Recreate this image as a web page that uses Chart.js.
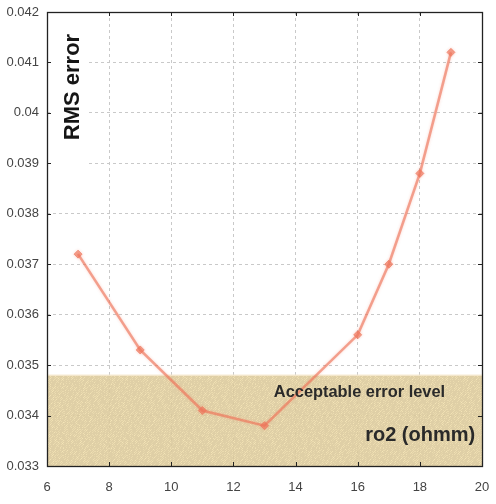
<!DOCTYPE html>
<html>
<head>
<meta charset="utf-8">
<script src="https://cdn.jsdelivr.net/npm/chart.js@4/dist/chart.umd.min.js"></script>
<style>
  html, body { margin: 0; padding: 0; background: #fff; }
  canvas { display: block; }
</style>
</head>
<body>
<canvas id="graphique" width="496" height="504"></canvas>
<script>
// ro2 values (ohmm) and the RMS error
const ro2 = [7, 9, 11, 13, 16, 17, 18, 19];
const rmsError = [0.0372, 0.0353, 0.0341, 0.0338, 0.0356, 0.0370, 0.0388, 0.0412];

// acceptable error band
const bandX = [6, 20];
const bandLevel = 0.0348;

const xTickLabels = ['6', '8', '10', '12', '14', '16', '18', '20'];
const yTickLabels = ['0.033', '0.034', '0.035', '0.036', '0.037', '0.038', '0.039', '0.04', '0.041', '0.042'];

const yTitle = 'RMS error';
const bandTitle = 'Acceptable error level';
const xTitle = 'ro2 (ohmm)';

const lineColor = 'rgba(238, 118, 90, 0.64)';

// grainy tan fill, like the scanned original (deterministic hash, no randomness)
function sandPattern() {
  const c = document.createElement('canvas');
  c.width = 64; c.height = 64;
  const g = c.getContext('2d');
  const img = g.createImageData(64, 64);
  for (let i = 0; i < 64 * 64; i++) {
    let h = (i * 2654435761) >>> 0;
    h = ((h ^ (h >>> 13)) * 1274126177) >>> 0;
    const n = ((h & 255) / 255 - 0.5) * 26;
    img.data[i * 4] = 232 + n;
    img.data[i * 4 + 1] = 214 + n;
    img.data[i * 4 + 2] = 164 + n * 0.8;
    img.data[i * 4 + 3] = 225;
  }
  g.putImageData(img, 0, 0);
  return g.createPattern(c, 'repeat');
}

// soft edge on the curve, the original looks slightly blurred
const softLine = {
  id: 'softLine',
  beforeDatasetDraw(chart, args) {
    if (args.index !== 0) return;
    chart.ctx.save();
    chart.ctx.shadowColor = 'rgba(240, 120, 95, 0.45)';
    chart.ctx.shadowBlur = 3;
  },
  afterDatasetDraw(chart, args) {
    if (args.index !== 0) return;
    chart.ctx.restore();
  }
};

// frame, inner ticks and the texts written inside the plot
const decorations = {
  id: 'decorations',
  afterDatasetsDraw(chart) {
    const ctx = chart.ctx;
    const a = chart.chartArea;
    const xs = chart.scales.x;
    const ys = chart.scales.y;
    ctx.save();

    // white box behind the y title
    ctx.fillStyle = '#fff';
    ctx.fillRect(a.left + 3, a.top + 14, 38, 138);

    ctx.fillStyle = '#161616';
    ctx.font = 'bold 22px "Liberation Sans", Arial, sans-serif';
    ctx.textAlign = 'center';
    ctx.textBaseline = 'middle';
    ctx.translate(a.left + 26, a.top + 75);
    ctx.rotate(-Math.PI / 2);
    ctx.fillText(yTitle, 0, 0);
    ctx.setTransform(chart.currentDevicePixelRatio, 0, 0, chart.currentDevicePixelRatio, 0, 0);

    ctx.font = 'bold 16.4px "Liberation Sans", Arial, sans-serif';
    ctx.textAlign = 'left';
    ctx.fillStyle = '#2a2a2a';
    ctx.fillText(bandTitle, xs.getPixelForValue(13.3), ys.getPixelForValue(0.03445));

    ctx.font = 'bold 20px "Liberation Sans", Arial, sans-serif';
    ctx.textAlign = 'right';
    ctx.fillText(xTitle, xs.getPixelForValue(19.78), ys.getPixelForValue(0.03361));

    // inner tick marks
    ctx.strokeStyle = '#222';
    ctx.lineWidth = 1;
    ctx.beginPath();
    xs.ticks.forEach(t => {
      const px = Math.round(xs.getPixelForValue(t.value)) + 0.5;
      ctx.moveTo(px, a.top); ctx.lineTo(px, a.top + 4);
      ctx.moveTo(px, a.bottom); ctx.lineTo(px, a.bottom - 4);
    });
    ys.ticks.forEach(t => {
      const py = Math.round(ys.getPixelForValue(t.value)) + 0.5;
      ctx.moveTo(a.left, py); ctx.lineTo(a.left + 4, py);
      ctx.moveTo(a.right, py); ctx.lineTo(a.right - 4, py);
    });
    ctx.stroke();

    // frame
    ctx.lineWidth = 1.3;
    ctx.strokeRect(Math.round(a.left) + 0.5, Math.round(a.top) + 0.5,
                   Math.round(a.right - a.left), Math.round(a.bottom - a.top));
    ctx.restore();
  }
};

const ctx = document.getElementById('graphique').getContext('2d');

new Chart(ctx, {
  type: 'line',
  data: {
    datasets: [
      {
        label: yTitle,
        data: ro2.map((x, i) => ({ x: x, y: rmsError[i] })),
        borderColor: lineColor,
        backgroundColor: lineColor,
        borderWidth: 2.6,
        pointStyle: 'rectRot',
        pointRadius: 4,
        pointBorderWidth: 1,
        fill: false,
        tension: 0
      },
      {
        label: bandTitle,
        data: bandX.map(x => ({ x: x, y: bandLevel })),
        borderColor: 'rgba(245, 232, 205, 0.9)',
        borderWidth: 1.5,
        backgroundColor: sandPattern(),
        pointRadius: 0,
        fill: 'start'
      }
    ]
  },
  options: {
    responsive: false,
    animation: false,
    layout: { padding: { top: 12, right: 14, bottom: 0, left: 0 } },
    plugins: {
      legend: { display: false },
      tooltip: { enabled: false }
    },
    scales: {
      x: {
        type: 'linear',
        min: 6,
        max: 20,
        afterFit: s => { s.height = 38; },
        afterBuildTicks: s => { s.ticks = xTickLabels.map(v => ({ value: Number(v) })); },
        ticks: {
          padding: 0,
          color: '#444',
          font: { family: '"Liberation Sans", Arial, sans-serif', size: 13 },
          callback: (v, i) => xTickLabels[i]
        },
        grid: { color: '#c9c9c9', lineWidth: 1, drawTicks: true, tickLength: 14, tickColor: 'rgba(0,0,0,0)' },
        border: { display: false, dash: [3, 3] }
      },
      y: {
        min: 0.033,
        max: 0.042,
        afterFit: s => { s.width = 47; },
        afterBuildTicks: s => { s.ticks = yTickLabels.map(v => ({ value: Number(v) })); },
        ticks: {
          padding: 0,
          color: '#444',
          font: { family: '"Liberation Sans", Arial, sans-serif', size: 13 },
          callback: (v, i) => yTickLabels[i]
        },
        grid: { color: '#c9c9c9', lineWidth: 1, drawTicks: true, tickLength: 8, tickColor: 'rgba(0,0,0,0)' },
        border: { display: false, dash: [3, 3] }
      }
    }
  },
  plugins: [softLine, decorations]
});
</script>
</body>
</html>
